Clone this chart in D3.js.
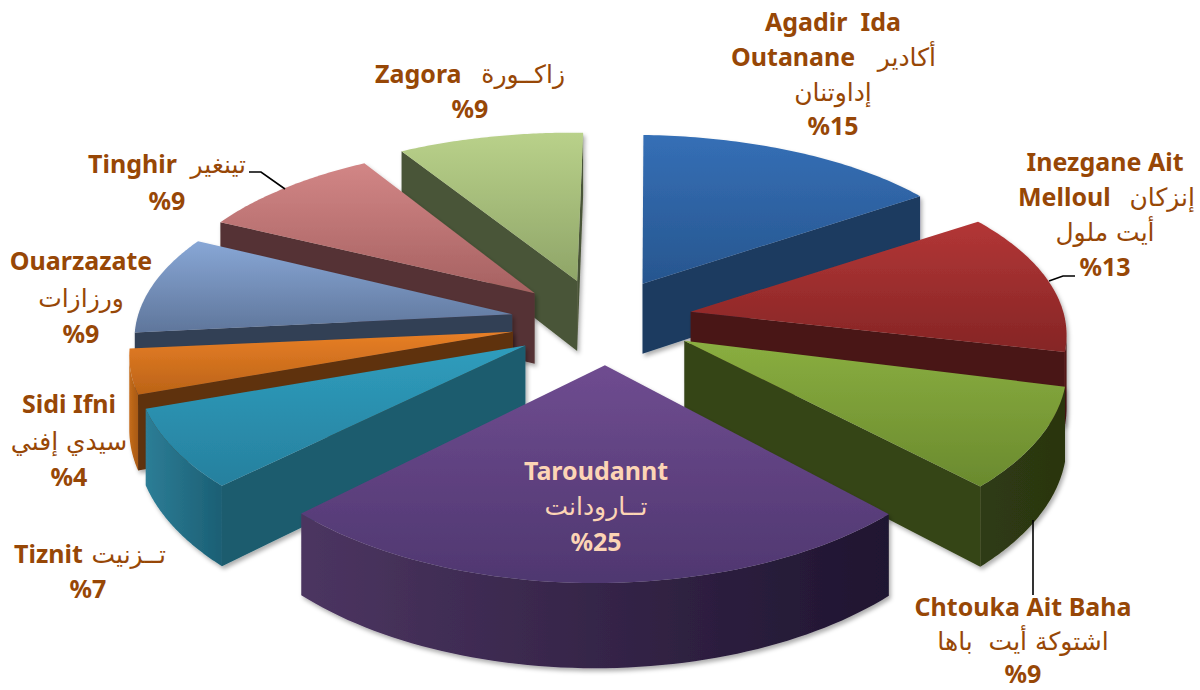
<!DOCTYPE html>
<html><head><meta charset="utf-8">
<script src="https://d3js.org/d3.v7.min.js"></script>
<style>html,body{margin:0;background:#fff}svg{display:block}</style></head>
<body><svg id="c" width="1200" height="690"></svg>
<script>
const names=["Agadir Ida Outanane","Inezgane Ait Melloul","Chtouka Ait Baha","Taroudannt","Tiznit","Sidi Ifni","Ouarzazate","Tinghir","Zagora"];
const values=[15,13,9,25,7,4,9,9,9];
const topLight=["#356fb6","#b33636","#8aae40","#6f4c90","#2f9dbd","#e87f26","#88a7d6","#d28686","#b9d18a"];
const topDark =["#27568f","#852525","#6a8a2e","#4f3770","#26809e","#bb6317","#5f769b","#a66161","#8fa568"];
const wallCol =["#1b3a60","#4a1313","#364519","#2a1c3c","#1a5c6e","#5f300c","#333f55","#553334","#4a5437"];
const arcLeft =["#1b3a60","#5a1616","#2f3b13","#4c3561","#2d7d96","#c56c1b","#3a4862","#5f3a3a","#525d3c"];
const arcRight=["#1b3a60","#4a1313","#2a3510","#1f1530","#1b5f74","#a85a14","#333f55","#553334","#4a5437"];
const rimNudgeX=[-1,7,7,-3,0,2,4,1,-2];
const rimNudgeY=[0,1,5,3,-1,0,2,2,0];

const cx=602,cy=321,R=374,Ry=176,K=0.1245,KX=0.105,E=0.244,H=72,ROT=1.9*Math.PI/180,RIM=-6/374;
const project=(i,mid,a,r,h)=>{
  const u=E*Math.sin(mid)+r*(Math.sin(a+ROT)+RIM), v=-E*Math.cos(mid)-r*Math.cos(a+ROT);
  return [cx+R*u/(1-KX*v)+r*rimNudgeX[i], cy+Ry*v/(1-K*v)+H*h/(1-K*v)+r*rimNudgeY[i]];
};
const svg=d3.select("#c");
const defs=svg.append("defs");
const sh=defs.append("filter").attr("id","sh").attr("x","-10%").attr("y","-10%").attr("width","120%").attr("height","125%");
sh.append("feDropShadow").attr("dx",2).attr("dy",3).attr("stdDeviation",2).attr("flood-color","#000").attr("flood-opacity",.32);
const grad=(id,horizontal,c1,c2)=>{const g=defs.append("linearGradient").attr("id",id).attr("x1",0).attr("y1",0).attr("x2",horizontal?1:0).attr("y2",horizontal?0:1);
  g.append("stop").attr("offset",0).attr("stop-color",c1);g.append("stop").attr("offset",1).attr("stop-color",c2);};
const line=d3.line().curve(d3.curveLinearClosed);
const arcs=d3.pie().sort(null)(values);
const painter=arcs.map((d,i)=>({d,i,mid:(d.startAngle+d.endAngle)/2})).sort((a,b)=>Math.cos(b.mid)-Math.cos(a.mid));
painter.forEach(({d,i,mid})=>{
  grad("t"+i,false,topLight[i],topDark[i]);grad("a"+i,true,arcLeft[i],arcRight[i]);
  const g=svg.append("g").attr("filter","url(#sh)");
  const n=60, as=d3.range(n+1).map(k=>d.startAngle+(d.endAngle-d.startAngle)*k/n);
  const A0=project(i,mid,0,0,0),A1=project(i,mid,0,0,1);
  const S0=project(i,mid,d.startAngle,1,0),S1=project(i,mid,d.startAngle,1,1);
  const T0=project(i,mid,d.endAngle,1,0),T1=project(i,mid,d.endAngle,1,1);
  if(S0[0]<A0[0]) g.append("path").attr("d",line([A0,S0,S1,A1])).attr("fill",wallCol[i]);
  if(A0[0]<T0[0]) g.append("path").attr("d",line([T0,A0,A1,T1])).attr("fill",wallCol[i]);
  const vis=[];
  as.forEach((a,k)=>{ if(k<n && project(i,mid,as[k+1],1,0)[0]<project(i,mid,a,1,0)[0]){ if(!vis.length||vis[vis.length-1]!==a) vis.push(a); vis.push(as[k+1]); }});
  if(vis.length) g.append("path").attr("d",line(vis.map(a=>project(i,mid,a,1,0)).concat(vis.slice().reverse().map(a=>project(i,mid,a,1,1))))).attr("fill",`url(#a${i})`);
  g.append("path").attr("d",line([A0].concat(as.map(a=>project(i,mid,a,1,0))))).attr("fill",`url(#t${i})`);
});
// leader lines
const leaders=[[[249,172],[261,172],[285,189]],[[1075,276],[1063,276],[1049,281]],[[1033,520],[1033,595]]];
svg.selectAll("path.l").data(leaders).join("path").attr("class","l").attr("d",d3.line()).attr("fill","none").attr("stroke","#000").attr("stroke-width",1.6);
// labels: [text, x, baseline, anchor, kind, colour]
const brown="#974706",peach="#fcd5b5";
const labels=[
["Agadir  Ida",833,31,"middle","b"],["Outanane",731,66,"start","b"],["أكادير",936,66,"end","a"],["إداوتنان",833,101,"middle","a"],["%15",833,135,"middle","b"],
["Inezgane Ait",1105,171,"middle","b"],["Melloul",1018,206,"start","b"],["إنزكان",1195,206,"end","a"],["أيت ملول",1105,241,"middle","a"],["%13",1105,276,"middle","b"],
["Chtouka Ait Baha",1023,616,"middle","b"],["اشتوكة أيت  باها",1023,650,"middle","a"],["%9",1023,683,"middle","b"],
["Taroudannt",596,480,"middle","b",peach],["تــارودانت",596,515,"middle","a",peach],["%25",596,551,"middle","b",peach],
["Tiznit",14,563,"start","b"],["تــزنيت",166,563,"end","a"],["%7",88,598,"middle","b"],
["Sidi Ifni",69,413,"middle","b"],["سيدي إفني",69,450,"middle","a"],["%4",69,486,"middle","b"],
["Ouarzazate",81,270,"middle","b"],["ورزازات",81,307,"middle","a"],["%9",81,343,"middle","b"],
["Tinghir",88,173,"start","b"],["تينغير",246,173,"end","a"],["%9",167,210,"middle","b"],
["Zagora",375,83,"start","b"],["زاكــورة",565,83,"end","a"],["%9",470,118,"middle","b"]
];
svg.selectAll("text").data(labels).join("text")
 .attr("x",d=>d[1]).attr("y",d=>d[2]).attr("text-anchor",d=>d[3]).text(d=>d[0])
 .attr("xml:space","preserve").style("white-space","pre")
 .attr("fill",d=>d[5]||brown)
 .attr("font-family",d=>d[4]==="b"?"'Noto Sans','Open Sans',sans-serif":"'DejaVu Sans',sans-serif")
 .attr("font-weight",d=>d[4]==="b"?700:400)
 .attr("font-size",25);
</script></body></html>
